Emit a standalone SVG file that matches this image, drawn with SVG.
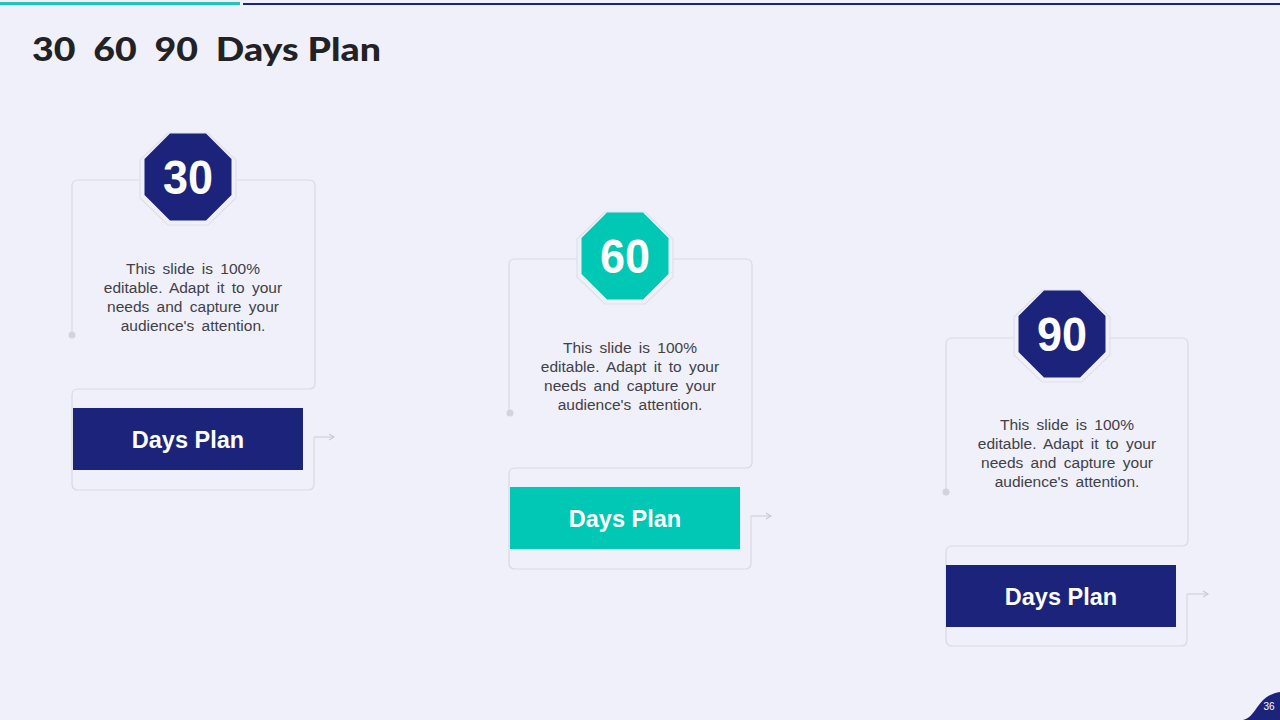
<svg xmlns="http://www.w3.org/2000/svg" width="1280" height="720" viewBox="0 0 1280 720">
<defs>
<style>
.bg{fill:#F0F0FA}
.frame{fill:none;stroke:#D9D9E3;stroke-width:1.2}
.halo{fill:#F0F0FA;stroke:#E0E0EA;stroke-width:1.2}
.navy{fill:#1B237B}
.teal{fill:#00C8B4}
.num{font-family:"Liberation Sans",Arial,sans-serif;font-weight:bold;font-size:48px;fill:#FFFFFF;text-anchor:middle}
.body{font-family:"Liberation Sans",Arial,sans-serif;font-size:15.5px;fill:#404048;text-anchor:middle;word-spacing:3px}
.lbl{font-family:"Liberation Sans",Arial,sans-serif;font-weight:bold;font-size:23.5px;fill:#FFFFFF;text-anchor:middle}
.dot{fill:#D3D3DB}
.conn{fill:none;stroke:#D0D0DA;stroke-width:1.2}
</style>
<marker id="ah" markerWidth="8" markerHeight="8" refX="6" refY="4" orient="auto" markerUnits="userSpaceOnUse">
<path d="M1,1 L6,4 L1,7" fill="none" stroke="#C8C8D2" stroke-width="1.1"/>
</marker>
<polygon id="oct" points="-18,-43.5 18,-43.5 43.5,-18 43.5,18 18,43.5 -18,43.5 -43.5,18 -43.5,-18"/>
<polygon id="octh" points="-20,-46 20,-46 48,-19 48,19 20,46 -20,46 -48,19 -48,-19"/>
</defs>
<rect class="bg" x="0" y="0" width="1280" height="720"/>
<rect x="0" y="2" width="240" height="3" fill="#1FC7B6"/>
<rect x="243" y="3" width="1037" height="2" fill="#1B237B"/>
<text x="32" y="61" font-family="Lato,'Liberation Sans',sans-serif" font-weight="900" font-size="32" fill="#222226" textLength="349" lengthAdjust="spacingAndGlyphs" xml:space="preserve">30  60  90  Days Plan</text>

<g id="card-30">
<path class="frame" d="M72,335 V186 Q72,180 78,180 H309 Q315,180 315,186 V383 Q315,389 309,389 H78 Q72,389 72,395 V484 Q72,490 78,490 H308 Q314,490 314,484 V437"/>
<circle class="dot" cx="72" cy="335" r="3.5"/>
<use href="#octh" class="halo" x="188" y="179"/>
<use href="#oct" class="navy" x="188" y="177"/>
<text class="num" x="188" y="194" textLength="50" lengthAdjust="spacingAndGlyphs">30</text>
<text class="body" x="193"><tspan x="193" y="274">This slide is 100%</tspan><tspan x="193" y="293">editable. Adapt it to your</tspan><tspan x="193" y="312">needs and capture your</tspan><tspan x="193" y="331">audience's attention.</tspan></text>
<rect class="navy" x="73" y="408" width="230" height="62"/>
<text class="lbl" x="188" y="448">Days Plan</text>
</g>

<g id="card-60">
<path class="frame" d="M509,413 V265 Q509,259 515,259 H746 Q752,259 752,265 V462 Q752,468 746,468 H515 Q509,468 509,474 V563 Q509,569 515,569 H745 Q751,569 751,563 V516"/>
<circle class="dot" cx="510" cy="413" r="3.5"/>
<use href="#octh" class="halo" x="625" y="258"/>
<use href="#oct" class="teal" x="625" y="256"/>
<text class="num" x="625" y="273" textLength="50" lengthAdjust="spacingAndGlyphs">60</text>
<text class="body" x="630"><tspan x="630" y="353">This slide is 100%</tspan><tspan x="630" y="372">editable. Adapt it to your</tspan><tspan x="630" y="391">needs and capture your</tspan><tspan x="630" y="410">audience's attention.</tspan></text>
<rect class="teal" x="510" y="487" width="230" height="62"/>
<text class="lbl" x="625" y="527">Days Plan</text>
</g>

<g id="card-90">
<path class="frame" d="M946,492 V344 Q946,338 952,338 H1182 Q1188,338 1188,344 V540 Q1188,546 1182,546 H952 Q946,546 946,552 V640 Q946,646 952,646 H1181 Q1187,646 1187,640 V594"/>
<circle class="dot" cx="946" cy="492" r="3.5"/>
<use href="#octh" class="halo" x="1062" y="336"/>
<use href="#oct" class="navy" x="1062" y="334"/>
<text class="num" x="1062" y="351" textLength="50" lengthAdjust="spacingAndGlyphs">90</text>
<text class="body" x="1067"><tspan x="1067" y="430">This slide is 100%</tspan><tspan x="1067" y="449">editable. Adapt it to your</tspan><tspan x="1067" y="468">needs and capture your</tspan><tspan x="1067" y="487">audience's attention.</tspan></text>
<rect class="navy" x="946" y="565" width="230" height="62"/>
<text class="lbl" x="1061" y="605">Days Plan</text>
</g>

<g id="connectors">
<path class="conn" d="M314,437 H334" marker-end="url(#ah)"/>
<path class="conn" d="M751,516 H771" marker-end="url(#ah)"/>
<path class="conn" d="M1187,594 H1208" marker-end="url(#ah)"/>
</g>

<g id="page-number">
<path class="navy" d="M1243,720 C1258,716 1256,696 1280,692 V720 Z"/>
<text x="1269" y="710" font-family="'Liberation Sans',Arial,sans-serif" font-size="10" fill="#FFFFFF" text-anchor="middle">36</text>
</g>
</svg>
